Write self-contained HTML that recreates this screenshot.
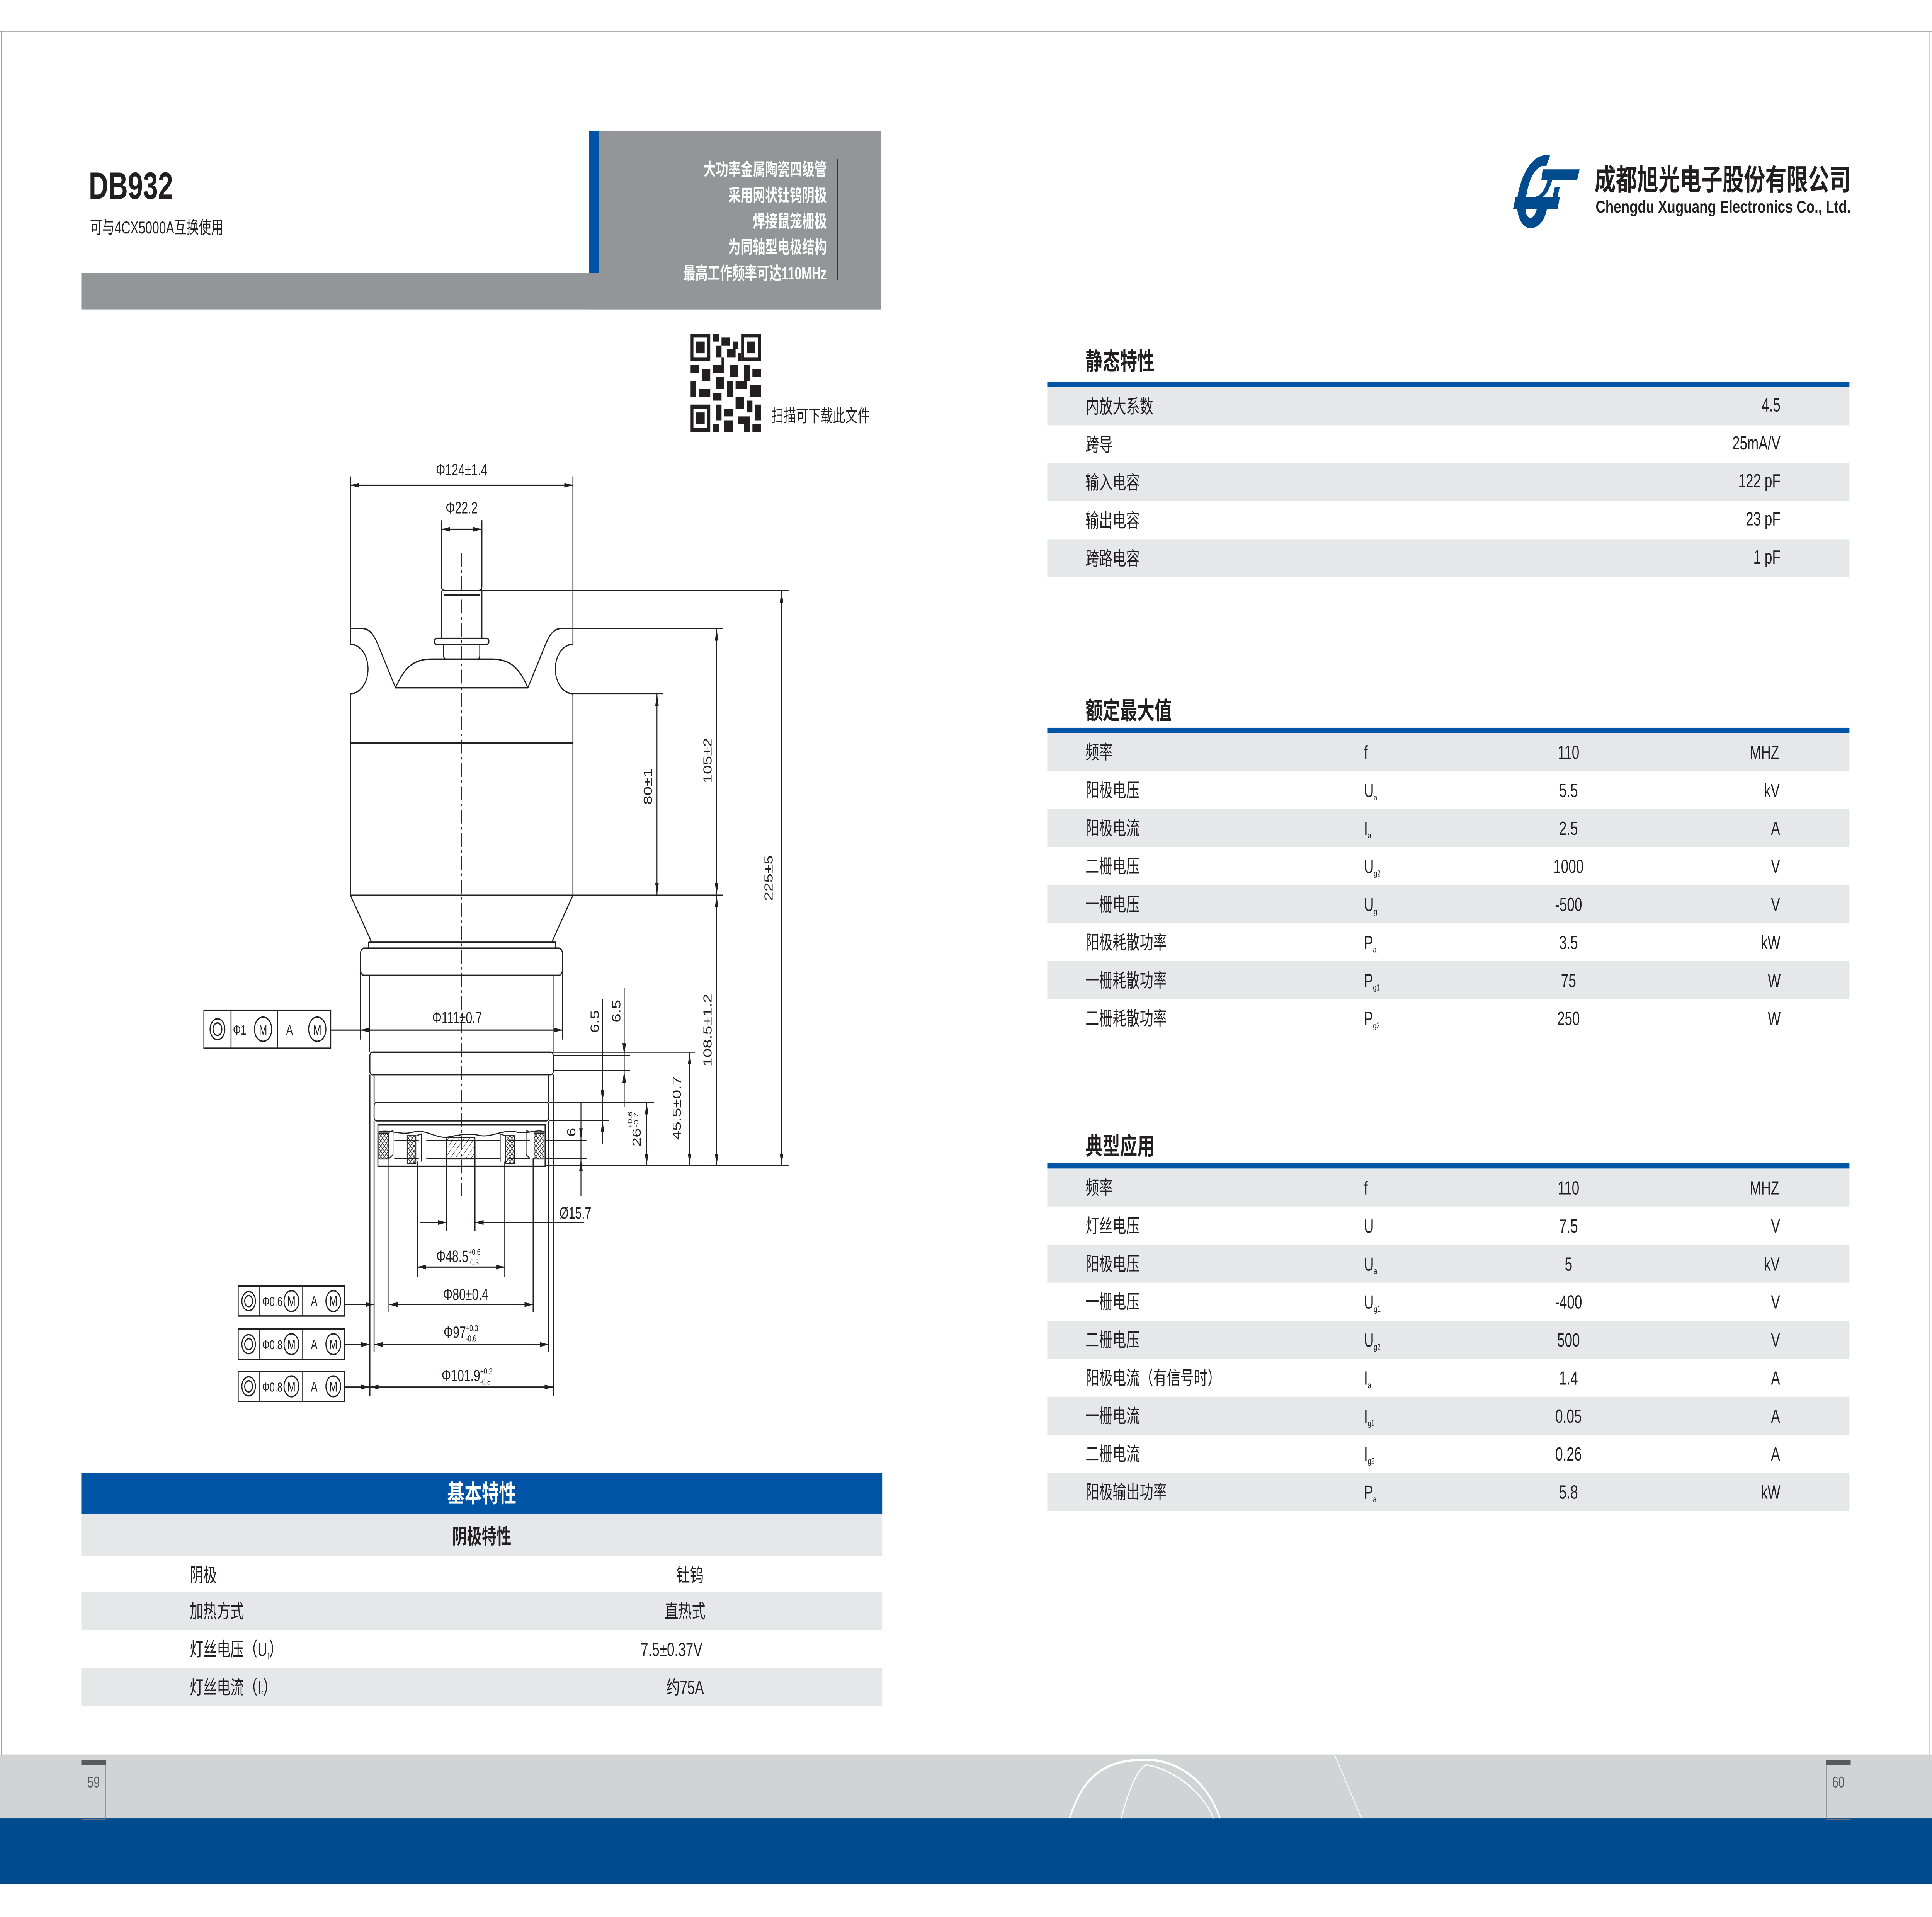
<!DOCTYPE html>
<html><head><meta charset="utf-8">
<meta name="viewport" content="width=device-width, initial-scale=1">
<style>
html,body{margin:0;padding:0;background:#fff;width:100%;height:100%;overflow:hidden;}
svg#pg{display:block;position:fixed;left:0;top:0;width:100vw;height:100vh;}
</style></head><body>
<svg id="pg" xmlns="http://www.w3.org/2000/svg" viewBox="0 0 1568 1109" preserveAspectRatio="none" font-family="Liberation Sans, Noto Sans CJK SC, sans-serif" fill="#231f20">
<defs>
<marker id="ar" viewBox="0 0 10 4" refX="10" refY="2" markerWidth="7" markerHeight="2.8" markerUnits="userSpaceOnUse" orient="auto-start-reverse"><path d="M0 0L10 2L0 4Z" fill="#231f20"/></marker>
<pattern id="xh" width="3" height="3" patternUnits="userSpaceOnUse"><path d="M0 0L3 3M3 0L0 3" stroke="#231f20" stroke-width="0.4"/></pattern>
<pattern id="sh" width="3" height="3" patternUnits="userSpaceOnUse" patternTransform="rotate(45)"><path d="M0 0L0 3" stroke="#231f20" stroke-width="0.5"/></pattern>
</defs>
<rect width="1568" height="1109" fill="#fff"/>

<rect x="0" y="18" width="1568" height="0.6" fill="#b0b0b0"/>
<rect x="1" y="18" width="0.6" height="997" fill="#8a8a8a"/>
<rect x="1566" y="18" width="0.6" height="997" fill="#8a8a8a"/>

<rect x="478" y="76" width="237" height="103" fill="#939598"/>
<rect x="478" y="76" width="8" height="82" fill="#0054a6"/>
<rect x="66" y="158" width="649" height="21" fill="#939598"/>
<rect x="679" y="92" width="1" height="70" fill="#333"/>
<g fill="#fff" font-size="10" font-weight="bold" text-anchor="end">
<text x="671" y="101.5">大功率金属陶瓷四级管</text>
<text x="671" y="116.5">采用网状钍钨阴极</text>
<text x="671" y="131.5">焊接鼠笼栅极</text>
<text x="671" y="146.5">为同轴型电极结构</text>
<text x="671" y="161.5">最高工作频率可达110MHz</text>
</g>
<text x="72" y="115" font-size="22" font-weight="bold">DB932</text>
<text x="73" y="135" font-size="10">可与4CX5000A互换使用</text>

<svg x="560" y="193" width="58" height="57" viewBox="0 0 25 25">
<path d="M0 0h7v7h-7zM18 0h7v7h-7zM0 18h7v7h-7z" fill="#231f20"/>
<path d="M1 1h5v5h-5zM19 1h5v5h-5zM1 19h5v5h-5z" fill="#fff"/>
<path fill="#231f20" d="M2 2h3v3h-3zM20 2h3v3h-3zM2 20h3v3h-3zM8 0h2v2h-2zM11 1h3v2h-3zM9 3h2v3h-2zM13 4h3v2h-3zM8 8h4v2h-4zM14 8h3v3h-3zM0 8h3v2h-3zM4 9h3v3h-3zM19 8h2v4h-2zM22 9h3v2h-3zM9 11h3v3h-3zM13 12h2v4h-2zM16 12h4v2h-4zM21 13h4v3h-4zM0 12h2v4h-2zM3 14h4v2h-4zM8 15h3v2h-3zM16 16h3v3h-3zM20 17h2v3h-2zM23 18h2v4h-2zM9 18h2v4h-2zM12 19h3v2h-3zM17 21h4v2h-4zM12 22h3v3h-3zM19 23h2v2h-2zM22 23h3v2h-3zM8 23h2v2h-2zM15 2h2v2h-2zM11 6h1v2h-1zM17 5h1v2h-1z"/>
</svg>
<text x="626" y="244" font-size="10">扫描可下载此文件</text>

<g transform="translate(1222 84)" fill="#004b8d">
<path d="M36 6 C24 4 14 14 10 28 C7 40 13 48 20 48 C28 48 33 42 34 34 L26 34 C25 40 22 42 20 42 C16 42 15 36 17 28 C20 17 26 11 33 12 Z"/>
<path d="M8 30 L44 30 L42 37 L6 37 Z"/>
<path d="M30 14 L60 14 L58 20 L29 20 Z"/>
<path d="M34 20 C32 26 28 30 22 30 L30 30 C34 28 36 24 38 20 Z"/>
<path d="M36 36 L40 24 L44 24 L40 36 Z"/>
</g>
<text x="1294" y="110" font-size="17" font-weight="bold" textLength="208" lengthAdjust="spacingAndGlyphs">成都旭光电子股份有限公司</text>
<text x="1295" y="123" font-size="10" font-weight="bold" textLength="207" lengthAdjust="spacingAndGlyphs">Chengdu Xuguang Electronics Co., Ltd.</text>

<text x="881" y="214" font-size="14" font-weight="bold">静态特性</text>
<rect x="850" y="221" width="651" height="3" fill="#0054a6"/>
<g fill="#e6e7e8"><rect x="850" y="224" width="651" height="22"/><rect x="850" y="268" width="651" height="22"/><rect x="850" y="312" width="651" height="22"/></g>
<g font-size="11">
<text x="881" y="239">内放大系数</text><text x="881" y="261">跨导</text><text x="881" y="283">输入电容</text><text x="881" y="305">输出电容</text><text x="881" y="327">跨路电容</text>
</g>
<g font-size="11" text-anchor="end">
<text x="1445" y="238">4.5</text><text x="1445" y="260">25mA/V</text><text x="1445" y="282">122 pF</text><text x="1445" y="304">23 pF</text><text x="1445" y="326">1 pF</text>
</g>

<text x="881" y="416" font-size="14" font-weight="bold">额定最大值</text>
<rect x="850" y="421" width="651" height="3" fill="#0054a6"/>
<g fill="#e6e7e8"><rect x="850" y="424" width="651" height="22"/><rect x="850" y="468" width="651" height="22"/><rect x="850" y="512" width="651" height="22"/><rect x="850" y="556" width="651" height="22"/></g>
<g font-size="11">
<text x="881" y="439">频率</text><text x="881" y="461">阳极电压</text><text x="881" y="483">阳极电流</text><text x="881" y="505">二栅电压</text><text x="881" y="527">一栅电压</text><text x="881" y="549">阳极耗散功率</text><text x="881" y="571">一栅耗散功率</text><text x="881" y="593">二栅耗散功率</text>
<text x="1107" y="439">f</text>
<text x="1107" y="461">U<tspan font-size="5" dy="2">a</tspan></text>
<text x="1107" y="483">I<tspan font-size="5" dy="2">a</tspan></text>
<text x="1107" y="505">U<tspan font-size="5" dy="2">g2</tspan></text>
<text x="1107" y="527">U<tspan font-size="5" dy="2">g1</tspan></text>
<text x="1107" y="549">P<tspan font-size="5" dy="2">a</tspan></text>
<text x="1107" y="571">P<tspan font-size="5" dy="2">g1</tspan></text>
<text x="1107" y="593">P<tspan font-size="5" dy="2">g2</tspan></text>
</g>
<g font-size="11" text-anchor="middle">
<text x="1273" y="439">110</text><text x="1273" y="461">5.5</text><text x="1273" y="483">2.5</text><text x="1273" y="505">1000</text><text x="1273" y="527">-500</text><text x="1273" y="549">3.5</text><text x="1273" y="571">75</text><text x="1273" y="593">250</text>
<text x="1432" y="439">MHZ</text><text x="1438" y="461">kV</text><text x="1441" y="483">A</text><text x="1441" y="505">V</text><text x="1441" y="527">V</text><text x="1437" y="549">kW</text><text x="1440" y="571">W</text><text x="1440" y="593">W</text>
</g>

<text x="881" y="668" font-size="14" font-weight="bold">典型应用</text>
<rect x="850" y="673" width="651" height="3" fill="#0054a6"/>
<g fill="#e6e7e8"><rect x="850" y="676" width="651" height="22"/><rect x="850" y="720" width="651" height="22"/><rect x="850" y="764" width="651" height="22"/><rect x="850" y="808" width="651" height="22"/><rect x="850" y="852" width="651" height="22"/></g>
<g font-size="11">
<text x="881" y="691">频率</text><text x="881" y="713">灯丝电压</text><text x="881" y="735">阳极电压</text><text x="881" y="757">一栅电压</text><text x="881" y="779">二栅电压</text><text x="881" y="801">阳极电流（有信号时）</text><text x="881" y="823">一栅电流</text><text x="881" y="845">二栅电流</text><text x="881" y="867">阳极输出功率</text>
<text x="1107" y="691">f</text>
<text x="1107" y="713">U</text>
<text x="1107" y="735">U<tspan font-size="5" dy="2">a</tspan></text>
<text x="1107" y="757">U<tspan font-size="5" dy="2">g1</tspan></text>
<text x="1107" y="779">U<tspan font-size="5" dy="2">g2</tspan></text>
<text x="1107" y="801">I<tspan font-size="5" dy="2">a</tspan></text>
<text x="1107" y="823">I<tspan font-size="5" dy="2">g1</tspan></text>
<text x="1107" y="845">I<tspan font-size="5" dy="2">g2</tspan></text>
<text x="1107" y="867">P<tspan font-size="5" dy="2">a</tspan></text>
</g>
<g font-size="11" text-anchor="middle">
<text x="1273" y="691">110</text><text x="1273" y="713">7.5</text><text x="1273" y="735">5</text><text x="1273" y="757">-400</text><text x="1273" y="779">500</text><text x="1273" y="801">1.4</text><text x="1273" y="823">0.05</text><text x="1273" y="845">0.26</text><text x="1273" y="867">5.8</text>
<text x="1432" y="691">MHZ</text><text x="1441" y="713">V</text><text x="1438" y="735">kV</text><text x="1441" y="757">V</text><text x="1441" y="779">V</text><text x="1441" y="801">A</text><text x="1441" y="823">A</text><text x="1441" y="845">A</text><text x="1437" y="867">kW</text>
</g>

<rect x="66" y="852" width="650" height="24" fill="#0054a6"/>
<text x="391" y="869" font-size="14" font-weight="bold" fill="#fff" text-anchor="middle">基本特性</text>
<rect x="66" y="876" width="650" height="24" fill="#e6e7e8"/>
<text x="391" y="893" font-size="12" font-weight="bold" text-anchor="middle">阴极特性</text>
<rect x="66" y="921" width="650" height="22" fill="#e6e7e8"/>
<rect x="66" y="965" width="650" height="22" fill="#e6e7e8"/>
<g font-size="11">
<text x="154" y="915">阴极</text><text x="154" y="936">加热方式</text>
<text x="154" y="958">灯丝电压（U<tspan font-size="5" dy="2">f</tspan><tspan dy="-2">）</tspan></text>
<text x="154" y="980">灯丝电流（I<tspan font-size="5" dy="2">f</tspan><tspan dy="-2">）</tspan></text>
</g>
<g font-size="11" text-anchor="middle">
<text x="560" y="915">钍钨</text><text x="556" y="936">直热式</text><text x="545" y="958">7.5±0.37V</text><text x="556" y="980">约75A</text>
</g>

<rect x="0" y="1015" width="1568" height="37" fill="#d1d3d4"/>
<rect x="0" y="1052" width="1568" height="38" fill="#004b8d"/>
<g transform="translate(0 1015)" fill="none">
<path d="M868 37 C880 10 900 3 930 3 C955 3 980 15 990 37" stroke="#fff" stroke-width="1.3"/>
<path d="M910 37 C918 15 925 8 930 6 C950 8 975 20 985 37" stroke="#fff" stroke-width="0.8"/>
<path d="M1083 0 L1105 37" stroke="#fff" stroke-width="0.6"/>
<rect x="66.5" y="3.5" width="19" height="34" stroke="#6d6e71" stroke-width="0.6"/>
<rect x="66" y="3" width="20" height="3" fill="#58595b"/>
<rect x="1482.5" y="3.5" width="19" height="34" stroke="#6d6e71" stroke-width="0.6"/>
<rect x="1482" y="3" width="20" height="3" fill="#58595b"/>
</g>
<text x="76" y="1034" font-size="9" text-anchor="middle" fill="#58595b">59</text>
<text x="1492" y="1034" font-size="9" text-anchor="middle" fill="#58595b">60</text>

<g fill="none" stroke="#231f20" stroke-width="0.8">
<g id="half">
<path d="M284.4 275.6 L284.4 372.7 A14.3 14.3 0 0 1 284.4 401.3 L284.4 517.9 L301.6 545.1"/>
<path d="M284.4 363.6 L294 363.6 C303 363.6 306 372 310.7 379.9 L321 397.9 L374.7 397.9"/>
<path d="M321 397.9 C328 386 336 381.3 350 381.3 L374.7 381.3"/>
<path d="M358.3 301 L358.3 339 Q358.3 341.6 361 341.6 L374.7 341.6"/>
<path d="M360 344.2 L374.7 344.2"/>
<path d="M355 369.3 L374.7 369.3 M352.6 371 Q352.6 369.3 355 369.3 M352.6 371 Q352.6 372.8 355 372.8 L374.7 372.8"/>
<path d="M358.3 341.6 L358.3 369.3 M360 372.8 L360 379 Q360 381.3 362 381.3"/>
</g>
<use href="#half" transform="translate(749.4 0) scale(-1 1)"/>
<path d="M284.4 429.9 L465 429.9 M284.4 517.9 L586.7 517.9"/>
<path d="M299.1 545.1 L450.9 545.1 L450.9 548.5 M299.1 545.1 L299.1 548.5"/>
<rect x="292.6" y="548.5" width="163.8" height="15.7" rx="3"/>
<path d="M292.6 560 L292.6 601.4 M456.4 560 L456.4 601.4"/>
<path d="M299.8 564.2 L299.8 608.7 M449.6 564.2 L449.6 608.7"/>
<rect x="300.2" y="608.7" width="148.8" height="13" rx="2"/>
<path d="M303.6 621.7 L303.6 637.7 M445.3 621.7 L445.3 637.7"/>
<rect x="303.6" y="637.7" width="141.7" height="10.7" rx="2"/>
<rect x="306.7" y="650.8" width="135.7" height="23.9"/>
<path d="M306.7 655 C315 653 325 657 335 655 C345 653 352 658 362 658 C370 657 380 655 390 657 C400 658 408 653 420 655 C430 656 436 653 442.4 655" stroke-width="0.6"/>
<path d="M320 659.7 L340 659.7 M346 659.7 L406 659.7 M412 659.7 L430 659.7 M320 670.4 L340 670.4 M346 670.4 L406 670.4 M412 670.4 L430 670.4" stroke-width="0.6"/>
<path d="M300.2 621.7 L300.2 807.5 M449 621.7 L449 807.5 M303.6 648.4 L303.6 782 M445.3 648.4 L445.3 782"/>
<path d="M315.7 670 L315.7 759 M432.7 670 L432.7 759 M338.7 672 L338.7 738.6 M409.7 672 L409.7 738.6 M362.5 660 L362.5 712 M385.5 660 L385.5 712"/>
<path d="M391 341.6 L640 341.6 M465 363.6 L586.7 363.6 M465 401.3 L538.4 401.3 M449 608.7 L564 608.7 M449 610.5 L511.5 610.5 M449 619.4 L511.5 619.4 M445.3 637.7 L530.9 637.7 M445.3 648.1 L494.5 648.1 M442 659.7 L476 659.7 M442 670.4 L476 670.4 M442.4 674.4 L640 674.4" stroke-width="0.6"/>
<path d="M391 301 L391 341.6"/>
<path d="M374.7 319.9 L374.7 692" stroke-width="0.5" stroke-dasharray="8 2 1.5 2"/>
</g>
<g stroke="#231f20" stroke-width="0.6">
<rect x="307.5" y="655.5" width="8" height="15" fill="url(#xh)"/>
<rect x="330.5" y="657" width="7" height="16" fill="url(#xh)"/>
<rect x="410.5" y="657" width="7" height="16" fill="url(#xh)"/>
<rect x="433.5" y="655.5" width="8" height="15" fill="url(#xh)"/>
<rect x="362.5" y="658" width="23" height="12.5" fill="url(#sh)"/>
<path d="M316 655 L319 654 L319 668 L316 670 M430 655 L427 654 L427 668 L430 670 M338 657 L342 656 L342 672 M410 657 L406 656 L406 672" fill="none"/>
</g>
<g fill="none" stroke="#231f20" stroke-width="0.7">
<path d="M284.4 280.7 L465 280.7" marker-start="url(#ar)" marker-end="url(#ar)"/>
<path d="M358.3 306.2 L391 306.2" marker-start="url(#ar)" marker-end="url(#ar)"/>
<path d="M292.6 595.9 L456.4 595.9" marker-start="url(#ar)" marker-end="url(#ar)"/>
<path d="M268.4 595.9 L292.6 595.9"/>
<path d="M533.2 401.3 L533.2 517.9" marker-start="url(#ar)" marker-end="url(#ar)"/>
<path d="M581.6 363.6 L581.6 517.9" marker-start="url(#ar)" marker-end="url(#ar)"/>
<path d="M581.6 517.9 L581.6 674.4" marker-start="url(#ar)" marker-end="url(#ar)"/>
<path d="M634.3 341.6 L634.3 674.4" marker-start="url(#ar)" marker-end="url(#ar)"/>
<path d="M559.7 608.7 L559.7 674.4" marker-start="url(#ar)" marker-end="url(#ar)"/>
<path d="M524.8 637.7 L524.8 674.4" marker-start="url(#ar)" marker-end="url(#ar)"/>
<path d="M489 578 L489 637.7" marker-end="url(#ar)"/><path d="M489 662 L489 648.1" marker-end="url(#ar)"/><path d="M489 637.7 L489 648.1"/>
<path d="M506.6 571.6 L506.6 610.5" marker-end="url(#ar)"/><path d="M506.6 640.5 L506.6 619.4" marker-end="url(#ar)"/><path d="M506.6 610.5 L506.6 619.4"/>
<path d="M471.5 637.6 L471.5 659.7" marker-end="url(#ar)"/><path d="M471.5 692 L471.5 670.4" marker-end="url(#ar)"/><path d="M471.5 659.7 L471.5 670.4"/>
<path d="M340.6 707.2 L362.5 707.2" marker-end="url(#ar)"/><path d="M474 707.2 L385.5 707.2" marker-end="url(#ar)"/>
<path d="M338.7 733 L409.7 733" marker-start="url(#ar)" marker-end="url(#ar)"/>
<path d="M315.7 754.7 L432.7 754.7" marker-start="url(#ar)" marker-end="url(#ar)"/>
<path d="M279.6 754.7 L303.6 754.7" marker-end="url(#ar)"/>
<path d="M303.6 777.8 L445.3 777.8" marker-start="url(#ar)" marker-end="url(#ar)"/>
<path d="M279.6 777.8 L300.2 777.8" marker-end="url(#ar)"/>
<path d="M300.2 802.4 L449 802.4" marker-start="url(#ar)" marker-end="url(#ar)"/>
<path d="M279.6 802.4 L300.2 802.4" marker-end="url(#ar)"/>
</g>
<g fill="none" stroke="#231f20" stroke-width="0.8">
<rect x="165.5" y="584.4" width="102.9" height="22"/>
<path d="M187.5 584.4 L187.5 606.4 M225.1 584.4 L225.1 606.4"/>
<circle cx="176.5" cy="595.4" r="6"/><circle cx="176.5" cy="595.4" r="3.6"/>
<circle cx="213.5" cy="595.4" r="7"/><circle cx="257.5" cy="595.4" r="7"/>
<rect x="193.3" y="744" width="86.3" height="17.3"/><path d="M210.3 744 L210.3 761.3 M245.7 744 L245.7 761.3"/>
<circle cx="201.8" cy="752.7" r="5.5"/><circle cx="201.8" cy="752.7" r="3.2"/>
<circle cx="236.5" cy="752.7" r="6"/><circle cx="270.5" cy="752.7" r="6"/>
<rect x="193.3" y="768.8" width="86.3" height="17.6"/><path d="M210.3 768.8 L210.3 786.4 M245.7 768.8 L245.7 786.4"/>
<circle cx="201.8" cy="777.6" r="5.5"/><circle cx="201.8" cy="777.6" r="3.2"/>
<circle cx="236.5" cy="777.6" r="6"/><circle cx="270.5" cy="777.6" r="6"/>
<rect x="193.3" y="793.4" width="86.3" height="17.3"/><path d="M210.3 793.4 L210.3 810.7 M245.7 793.4 L245.7 810.7"/>
<circle cx="201.8" cy="802" r="5.5"/><circle cx="201.8" cy="802" r="3.2"/>
<circle cx="236.5" cy="802" r="6"/><circle cx="270.5" cy="802" r="6"/>
</g>
<g font-size="8" text-anchor="middle">
<text x="194.5" y="598.5">Φ1</text><text x="213.5" y="598.5">M</text><text x="235" y="598.5">A</text><text x="257.5" y="598.5">M</text>
<text x="221" y="755.5" font-size="7.5">Φ0.6</text><text x="236.5" y="755.5">M</text><text x="255" y="755.5">A</text><text x="270.5" y="755.5">M</text>
<text x="221" y="780.5" font-size="7.5">Φ0.8</text><text x="236.5" y="780.5">M</text><text x="255" y="780.5">A</text><text x="270.5" y="780.5">M</text>
<text x="221" y="805" font-size="7.5">Φ0.8</text><text x="236.5" y="805">M</text><text x="255" y="805">A</text><text x="270.5" y="805">M</text>
</g>
<g font-size="9.5" text-anchor="middle">
<text x="374.7" y="275">Φ124±1.4</text>
<text x="374.7" y="297">Φ22.2</text>
<text x="371" y="592">Φ111±0.7</text>
<text x="467" y="705">Ø15.7</text>
<text x="372" y="730">Φ48.5<tspan font-size="5" dy="-4">+0.6</tspan><tspan font-size="5" dx="-10" dy="6">-0.3</tspan></text>
<text x="378" y="752">Φ80±0.4</text>
<text x="374" y="774">Φ97<tspan font-size="5" dy="-4">+0.3</tspan><tspan font-size="5" dx="-10" dy="6">-0.6</tspan></text>
<text x="379" y="799">Φ101.9<tspan font-size="5" dy="-4">+0.2</tspan><tspan font-size="5" dx="-10" dy="6">-0.8</tspan></text>
<text transform="translate(529 455) rotate(-90)">80±1</text>
<text transform="translate(577.5 440) rotate(-90)">105±2</text>
<text transform="translate(627 508) rotate(-90)">225±5</text>
<text transform="translate(577.5 596) rotate(-90)">108.5±1.2</text>
<text transform="translate(552.5 641) rotate(-90)">45.5±0.7</text>
<text transform="translate(486 591) rotate(-90)">6.5</text>
<text transform="translate(503.5 585) rotate(-90)">6.5</text>
<text transform="translate(467 655) rotate(-90)">6</text>
<text transform="translate(520 658) rotate(-90)">26</text>
<text transform="translate(513 648) rotate(-90)" font-size="5">+0.6</text>
<text transform="translate(518 648) rotate(-90)" font-size="5">-0.7</text>
</g>
</svg>
</body></html>
